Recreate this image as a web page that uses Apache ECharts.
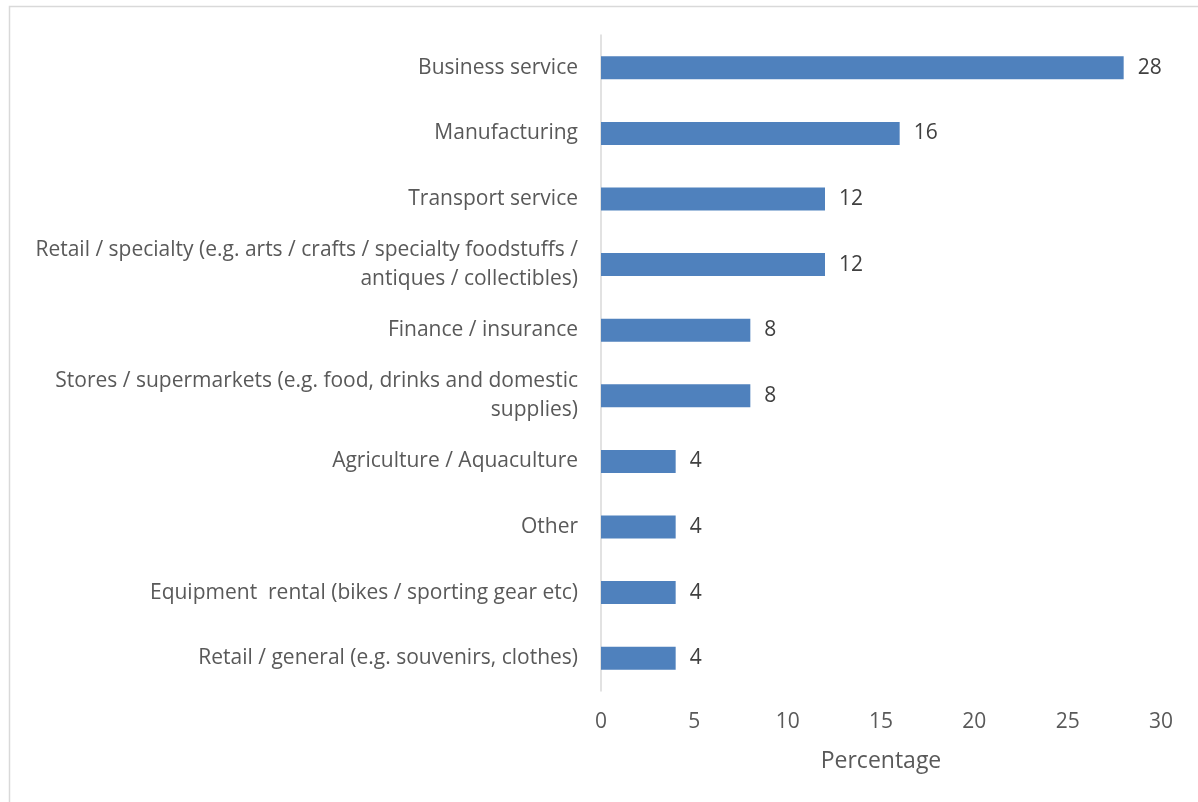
<!DOCTYPE html>
<html>
<head>
<meta charset="utf-8">
<title>Business types</title>
<script src="https://cdn.jsdelivr.net/npm/echarts@6/dist/echarts.min.js"></script>
<style>
  html, body { margin: 0; padding: 0; background: #ffffff; }
  #chart { width: 1198px; height: 802px; }
</style>
</head>
<body>
<div id="chart"></div>
<script>
// Business categories, listed top to bottom
const categories = [
  'Business service',
  'Manufacturing',
  'Transport service',
  'Retail / specialty (e.g. arts / crafts / specialty foodstuffs /\nantiques / collectibles)',
  'Finance / insurance',
  'Stores / supermarkets (e.g. food, drinks and domestic\nsupplies)',
  'Agriculture / Aquaculture',
  'Other',
  'Equipment  rental (bikes / sporting gear etc)',
  'Retail / general (e.g. souvenirs, clothes)'
];

// Share of respondents, percent
const percentages = [28, 16, 12, 12, 8, 8, 4, 4, 4, 4];

// Value axis range
const axisMin = 0;
const axisMax = 30;
const axisStep = 5;
const axisTitle = 'Percentage';

const FONT = '"Open Sans", Lato, "Liberation Sans", sans-serif';

const chart = echarts.init(document.getElementById('chart'), null, { renderer: 'canvas' });

chart.setOption({
  backgroundColor: '#ffffff',
  animation: false,
  graphic: [{
    type: 'rect',
    shape: { x: 9.5, y: 6.5, width: 1400, height: 1000 },
    style: { fill: 'none', stroke: '#d9d9d9', lineWidth: 1.5 },
    silent: true,
    z: -1
  }],
  grid: {
    left: 601,
    right: 37,
    top: 35,
    bottom: 111,
    containLabel: false,
    outerBoundsMode: 'none'
  },
  xAxis: {
    type: 'value',
    min: axisMin,
    max: axisMax,
    interval: axisStep,
    name: axisTitle,
    nameLocation: 'middle',
    nameGap: 59,
    nameTextStyle: { color: '#595959', fontSize: 23, fontFamily: FONT },
    axisLine: { show: false },
    axisTick: { show: false },
    splitLine: { show: false },
    axisLabel: { color: '#595959', fontSize: 21, fontFamily: FONT, margin: 21 }
  },
  yAxis: {
    type: 'category',
    data: categories,
    inverse: true,
    axisLine: { show: true, lineStyle: { color: '#d9d9d9', width: 1.5 } },
    axisTick: { show: false },
    splitLine: { show: false },
    axisLabel: {
      color: '#595959',
      fontSize: 21,
      fontFamily: FONT,
      margin: 23,
      lineHeight: 29,
      padding: [3, 0, 0, 0],
      align: 'right'
    }
  },
  series: [{
    type: 'bar',
    data: percentages,
    barWidth: 23,
    itemStyle: { color: '#4f81bd' },
    label: {
      show: true,
      position: 'right',
      distance: 14,
      color: '#404040',
      fontSize: 21,
      fontFamily: FONT,
      padding: [3, 0, 0, 0]
    }
  }]
});
</script>
</body>
</html>
